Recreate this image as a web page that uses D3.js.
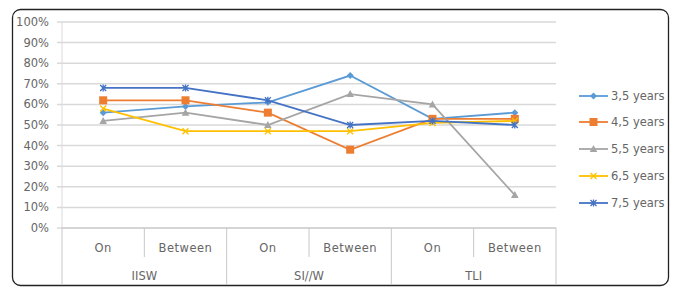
<!DOCTYPE html>
<html><head><meta charset="utf-8">
<script src="https://cdn.jsdelivr.net/npm/d3@7"></script>
<style>
html,body{margin:0;padding:0;background:#fff;}
svg{display:block;font-family:"DejaVu Sans",sans-serif;}
</style></head><body>
<svg id="c" width="675" height="287"></svg>
<script>
const groups = ["IISW", "SI//W", "TLI"];
const subCats = ["On", "Between"];
const categories = ["IISW|On", "IISW|Between", "SI//W|On", "SI//W|Between", "TLI|On", "TLI|Between"];
const seriesNames = ["3,5 years", "4,5 years", "5,5 years", "6,5 years", "7,5 years"];
const s35 = [56, 59, 61, 74, 53, 56];
const s45 = [62, 62, 56, 38, 53, 53];
const s55 = [52, 56, 50, 65, 60, 16];
const s65 = [58, 47, 47, 47, 51, 52];
const s75 = [68, 68, 62, 50, 52, 50];
const yTicks = [0, 10, 20, 30, 40, 50, 60, 70, 80, 90, 100];
const colors = ["#5b9bd5", "#ed7d31", "#a5a5a5", "#ffc000", "#4472c4"];
const markers = ["diamond", "square", "triangle", "x", "star"];
const allSeries = [s35, s45, s55, s65, s75];

const svg = d3.select("#c");
const L = 62, R = 556, T = 22, B = 228;
const x = d3.scaleBand().domain(categories).range([L, R]);
const y = d3.scaleLinear().domain([0, 100]).range([B, T]);
const txt = "#666";

// frame
svg.append("rect").attr("x", 12.5).attr("y", 9.5).attr("width", 656).attr("height", 276)
  .attr("rx", 8).attr("fill", "#fff").attr("stroke", "#222").attr("stroke-width", 1.3);

// gridlines
svg.append("g").selectAll("line").data(yTicks).join("line")
  .attr("x1", L - 5).attr("x2", R).attr("y1", d => y(d)).attr("y2", d => y(d))
  .attr("stroke", "#d9d9d9").attr("stroke-width", 1.5);
svg.append("line").attr("x1", L).attr("x2", L).attr("y1", T).attr("y2", B)
  .attr("stroke", "#d9d9d9").attr("stroke-width", 1);

// y labels
svg.append("g").selectAll("text").data(yTicks).join("text")
  .attr("x", 49).attr("y", d => y(d)).attr("dy", "0.35em").attr("text-anchor", "end")
  .attr("font-size", 11.5).attr("fill", txt)
  .text(d => d + "%");

// category axis
const ax = svg.append("g").attr("stroke", "#c8c8c8").attr("stroke-width", 1);
ax.append("line").attr("x1", L).attr("x2", R).attr("y1", B).attr("y2", B);
const gw = x.bandwidth() * 2;
groups.forEach((g, i) => {
  const gx = L + i * gw;
  ax.append("line").attr("x1", gx).attr("x2", gx).attr("y1", B).attr("y2", 285);
  ax.append("line").attr("x1", gx + x.bandwidth()).attr("x2", gx + x.bandwidth()).attr("y1", B).attr("y2", 257);
  svg.append("text").attr("x", gx + gw / 2).attr("y", 276).attr("dy", "0.35em")
    .attr("text-anchor", "middle").attr("font-size", 11.5).attr("fill", txt).text(g);
});
ax.append("line").attr("x1", R).attr("x2", R).attr("y1", B).attr("y2", 285);
svg.append("g").selectAll("text").data(categories).join("text")
  .attr("x", d => x(d) + x.bandwidth() / 2).attr("y", 248).attr("dy", "0.35em")
  .attr("text-anchor", "middle").attr("font-size", 11.5).attr("letter-spacing", 0.5).attr("fill", txt)
  .text(d => d.split("|")[1]);

function drawMarker(g, type, cx, cy, color) {
  if (type === "diamond") {
    g.append("path").attr("d", `M${cx},${cy-3.5}L${cx+3.5},${cy}L${cx},${cy+3.5}L${cx-3.5},${cy}Z`).attr("fill", color);
  } else if (type === "square") {
    g.append("rect").attr("x", cx - 4).attr("y", cy - 4).attr("width", 8).attr("height", 8).attr("fill", color);
  } else if (type === "triangle") {
    g.append("path").attr("d", `M${cx},${cy-4}L${cx+3.8},${cy+3}L${cx-3.8},${cy+3}Z`).attr("fill", color);
  } else if (type === "x") {
    g.append("path").attr("d", `M${cx-3},${cy-3}L${cx+3},${cy+3}M${cx+3},${cy-3}L${cx-3},${cy+3}`)
      .attr("stroke", color).attr("stroke-width", 1.3);
  } else {
    g.append("path").attr("d", `M${cx-3},${cy-3}L${cx+3},${cy+3}M${cx+3},${cy-3}L${cx-3},${cy+3}M${cx},${cy-3.5}L${cx},${cy+3.5}`)
      .attr("stroke", color).attr("stroke-width", 1.3);
  }
}

const line = d3.line().x((d, i) => x(categories[i]) + x.bandwidth() / 2).y(d => y(d));
allSeries.forEach((vals, si) => {
  const g = svg.append("g");
  g.append("path").attr("d", line(vals)).attr("fill", "none")
    .attr("stroke", colors[si]).attr("stroke-width", 1.8);
  vals.forEach((v, i) => drawMarker(g, markers[si], x(categories[i]) + x.bandwidth() / 2, y(v), colors[si]));
});

// legend
const legY = [96, 122, 149, 176, 203];
const legG = svg.append("g");
seriesNames.forEach((n, i) => {
  const g = legG.append("g");
  g.append("line").attr("x1", 579).attr("x2", 608).attr("y1", legY[i]).attr("y2", legY[i])
    .attr("stroke", colors[i]).attr("stroke-width", 1.8);
  drawMarker(g, markers[i], 593.5, legY[i], colors[i]);
  g.append("text").attr("x", 611).attr("y", legY[i]).attr("dy", "0.35em")
    .attr("font-size", 11.5).attr("fill", txt).text(n);
});
</script>
</body></html>
